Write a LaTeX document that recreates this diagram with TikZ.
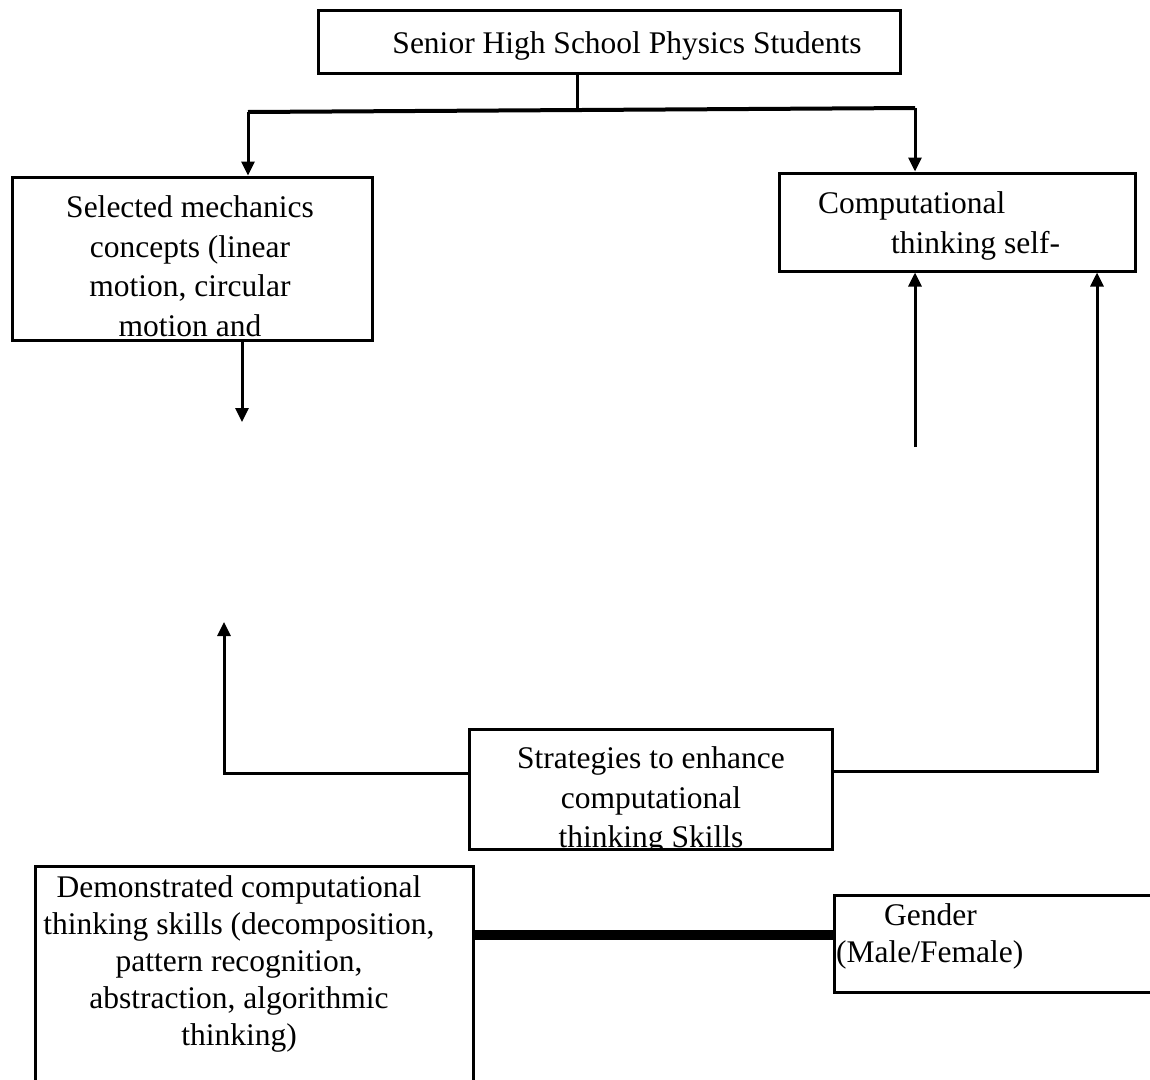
\documentclass[tikz,border=0pt]{standalone}
\usepackage{fontspec}
\setmainfont{Liberation Serif}
\usetikzlibrary{arrows.meta,fit}
\begin{document}
\begin{tikzpicture}[x=1pt,y=1pt,
  box/.style={draw,line width=3pt,inner sep=0pt,fill=white},
  lbl/.style={inner sep=0pt,font=\fontsize{31.5}{40}\selectfont},
  conn/.style={line width=3pt},
  arr/.style={line width=3pt,-{Triangle[length=14pt,width=13pt]}},
  bar/.style={line width=10.5pt}]
\useasboundingbox (0,0) rectangle (1150,-1079);
% boxes
\node[box,fit={(318,-10) (900,-73)}] (top) {};
\node[box,fit={(12,-177) (372,-340)}] (left) {};
\node[box,fit={(779,-173) (1135,-271)}] (right) {};
\node[box,fit={(469,-729) (832,-849)}] (strat) {};
\node[box,fit={(35,-866) (473,-1090)}] (demo) {};
\node[box,fit={(834,-895) (1160,-992)}] (gender) {};
% texts
\node[lbl,anchor=base] (t1) at (627,-53) {Senior High School Physics Students};
\node[lbl,anchor=base] (l1) at (190,-217) {Selected mechanics};
\node[lbl,anchor=base] (l2) at (190,-257) {concepts (linear};
\node[lbl,anchor=base] (l3) at (190,-296) {motion, circular};
\node[lbl,anchor=base] (l4) at (190,-336) {motion and};
\node[lbl,anchor=base west] (r1) at (818,-213) {Computational};
\node[lbl,anchor=base west] (r2) at (891,-253) {thinking self-};
\begin{scope}
\clip (strat.south west) rectangle (strat.north east);
\node[lbl,anchor=base] (s1) at (651,-768) {Strategies to enhance};
\node[lbl,anchor=base] (s2) at (651,-808) {computational};
\node[lbl,anchor=base] (s3) at (651,-847) {thinking Skills};
\end{scope}
\node[lbl,anchor=base] (d1) at (239,-897) {Demonstrated computational};
\node[lbl,anchor=base] (d2) at (239,-934) {thinking skills (decomposition,};
\node[lbl,anchor=base] (d3) at (239,-971) {pattern recognition,};
\node[lbl,anchor=base] (d4) at (239,-1008) {abstraction, algorithmic};
\node[lbl,anchor=base] (d5) at (239,-1045) {thinking)};
\node[lbl,anchor=base west] (g1) at (884,-925) {Gender};
\node[lbl,anchor=base west] (g2) at (836,-962) {(Male/Female)};
% connectors
\coordinate (j) at (577,-109);
\coordinate (jl) at (248,-112);
\coordinate (jr) at (915,-108);
\draw[conn] (top.south -| j) -- (j);
\draw[line width=4pt] (jl) -- (jr);
\draw[arr] (jl) -- (jl |- left.north);
\draw[arr] (jr) -- (jr |- right.north);
\coordinate (la) at (242,-422);
\draw[arr] (left.south -| la) -- (la);
\coordinate (ra) at (915,-447);
\draw[arr] (ra) -- (ra |- right.south);
\coordinate (sl) at (224,-773);
\coordinate (slt) at (224,-622);
\draw[arr] (strat.west |- sl) -- (sl) -- (slt);
\coordinate (sr) at (1097,-771);
\draw[arr] (strat.east |- sr) -- (sr) -- (sr |- right.south);
\coordinate (g) at (650,-935);
\draw[bar] (demo.east |- g) -- (gender.west |- g);
\end{tikzpicture}
\end{document}
